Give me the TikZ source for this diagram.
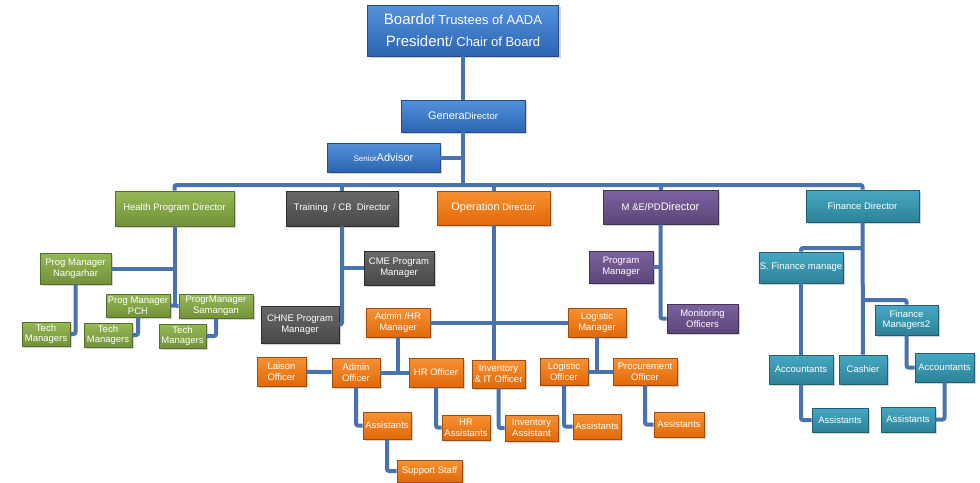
\documentclass[tikz,border=0pt]{standalone}
\usepackage{fontspec}
\setmainfont{Liberation Sans}
\usepackage{tikz}
\usetikzlibrary{shadows}
\definecolor{linkblue}{RGB}{74,114,174}
\tikzstyle{orgbox} = [rectangle, draw, line width=0.6pt, text=white, align=center,
    inner sep=1pt, font=\fontsize{9.5}{10.8}\selectfont,
    drop shadow={opacity=0.35, shadow xshift=2pt, shadow yshift=-2pt}]
\tikzstyle{bluebox} = [orgbox, draw={rgb,255:red,35;green,75;blue,135},
    top color={rgb,255:red,84;green,146;blue,220}, bottom color={rgb,255:red,44;green,100;blue,178}]
\tikzstyle{greenbox} = [orgbox, draw={rgb,255:red,85;green,110;blue,40},
    top color={rgb,255:red,150;green,185;blue,85}, bottom color={rgb,255:red,115;green,145;blue,58}]
\tikzstyle{graybox} = [orgbox, draw={rgb,255:red,45;green,45;blue,45},
    top color={rgb,255:red,105;green,105;blue,105}, bottom color={rgb,255:red,72;green,72;blue,72}]
\tikzstyle{orangebox} = [orgbox, draw={rgb,255:red,160;green,75;blue,10},
    top color={rgb,255:red,248;green,145;blue,50}, bottom color={rgb,255:red,225;green,105;blue,8}]
\tikzstyle{purplebox} = [orgbox, draw={rgb,255:red,65;green,48;blue,88},
    top color={rgb,255:red,125;green,98;blue,160}, bottom color={rgb,255:red,92;green,70;blue,120}]
\tikzstyle{tealbox} = [orgbox, draw={rgb,255:red,30;green,95;blue,115},
    top color={rgb,255:red,70;green,168;blue,195}, bottom color={rgb,255:red,45;green,130;blue,152}]
\tikzstyle{connector} = [draw=linkblue, line width=4pt, rounded corners=2pt]

\begin{document}
\begin{tikzpicture}[x=1pt, y=-1pt]
            \useasboundingbox (0,0) rectangle (980,482);
            % Top
            \node[bluebox, minimum width=191pt, minimum height=51pt,
            font=\fontsize{13}{22}\selectfont] (board) at (463,30.5)
            {{\fontsize{15}{22}\selectfont Board}of Trustees of AADA\\
            {\fontsize{15}{22}\selectfont President}/ Chair of Board};
            \node[bluebox, minimum width=124pt, minimum height=32pt] (gendir) at (463,116)
            {{\fontsize{11}{13}\selectfont Genera}Director};
            \node[bluebox, minimum width=113pt, minimum height=29pt] (advisor) at (383.5,157.5)
            {{\fontsize{8}{10}\selectfont Senior}{\fontsize{11}{13}\selectfont Advisor}};
            % Directors
            \node[greenbox, minimum width=119pt, minimum height=35pt] (health) at (174.5,208.5)
            {Health Program Director};
            \node[graybox, minimum width=112pt, minimum height=35pt] (training) at (342,208.5)
            {Training~ / CB~ Director};
            \node[orangebox, minimum width=113pt, minimum height=34pt] (operation) at (493.5,208)
            {{\fontsize{11}{13}\selectfont Operation} Director};
            \node[purplebox, minimum width=115pt, minimum height=34pt] (mepd) at (660.5,207)
            {M \&E/PD{\fontsize{11}{13}\selectfont Director}};
            \node[tealbox, minimum width=113pt, minimum height=32pt] (findir) at (862.5,206)
            {Finance Director};
            % Health program
            \node[greenbox, minimum width=71pt, minimum height=31pt] (nangarhar) at (75.5,268.5)
            {Prog Manager\\Nangarhar};
            \node[greenbox, minimum width=64pt, minimum height=23pt] (pch) at (138,305.5)
            {Prog Manager\\PCH};
            \node[greenbox, minimum width=74pt, minimum height=24pt] (samangan) at (216,306)
            {ProgrManager\\Samangan};
            \node[greenbox, minimum width=48pt, minimum height=24pt] (tech1) at (46,334)
            {Tech\\Managers};
            \node[greenbox, minimum width=48pt, minimum height=24pt] (tech2) at (108,335)
            {Tech\\Managers};
            \node[greenbox, minimum width=47pt, minimum height=24pt] (tech3) at (182.5,336)
            {Tech\\Managers};
            % Training / CB
            \node[graybox, minimum width=70pt, minimum height=34pt] (cme) at (399,268)
            {CME Program\\Manager};
            \node[graybox, minimum width=78pt, minimum height=37pt] (chne) at (300,324.5)
            {CHNE Program\\Manager};
            % Operation
            \node[orangebox, minimum width=64pt, minimum height=29pt] (adminhr) at (398,322.5)
            {Admin /HR\\Manager};
            \node[orangebox, minimum width=58pt, minimum height=29pt] (logmgr) at (597,322.5)
            {Logistic\\Manager};
            \node[orangebox, minimum width=49pt, minimum height=29pt] (laison) at (281.5,371.5)
            {Laison\\Officer};
            \node[orangebox, minimum width=48pt, minimum height=29pt] (adminoff) at (356,372.5)
            {Admin\\Officer};
            \node[orangebox, minimum width=54pt, minimum height=29pt] (hroff) at (436,372.5)
            {HR Officer};
            \node[orangebox, minimum width=53pt, minimum height=28pt] (invit) at (498.5,374)
            {Inventory\\\& IT Officer};
            \node[orangebox, minimum width=48pt, minimum height=27pt] (logoff) at (564,371.5)
            {Logistic\\Officer};
            \node[orangebox, minimum width=64pt, minimum height=27pt] (procoff) at (645,371.5)
            {Procurement\\Officer};
            \node[orangebox, minimum width=48pt, minimum height=27pt] (adminasst) at (387,425.5)
            {Assistants};
            \node[orangebox, minimum width=48pt, minimum height=25pt] (hrasst) at (466,427.5)
            {HR\\Assistants};
            \node[orangebox, minimum width=53pt, minimum height=26pt] (invasst) at (531.5,428)
            {Inventory\\Assistant};
            \node[orangebox, minimum width=48pt, minimum height=25pt] (logasst) at (597,426.5)
            {Assistants};
            \node[orangebox, minimum width=50pt, minimum height=25pt] (procasst) at (679,424.5)
            {Assistants};
            \node[orangebox, minimum width=65pt, minimum height=22pt] (support) at (429.5,471)
            {Support Staff};
            % M&E/PD
            \node[purplebox, minimum width=64pt, minimum height=32pt] (progmgr) at (621,267)
            {Program\\Manager};
            \node[purplebox, minimum width=71pt, minimum height=29pt] (monitor) at (702.5,318.5)
            {Monitoring\\Officers};
            % Finance
            \node[tealbox, minimum width=80pt, minimum height=31pt] (sfin) at (801,267.5)
            {S. Finance manage};
            \node[tealbox, minimum width=63pt, minimum height=30pt] (finmgr) at (906.5,320)
            {Finance\\Managers2};
            \node[tealbox, minimum width=64pt, minimum height=29pt] (acc1) at (801,369.5)
            {Accountants};
            \node[tealbox, minimum width=48pt, minimum height=29pt] (cashier) at (863,369.5)
            {Cashier};
            \node[tealbox, minimum width=59pt, minimum height=29pt] (acc2) at (944.5,367.5)
            {Accountants};
            \node[tealbox, minimum width=56pt, minimum height=24pt] (finasst1) at (840,420)
            {Assistants};
            \node[tealbox, minimum width=54pt, minimum height=25pt] (finasst2) at (908,419.5)
            {Assistants};
            % Connectors
            \coordinate (bus) at (463,185);
            \coordinate (fbus) at (862.5,248);
            \coordinate (fbus2) at (862.5,300);
            \draw[connector] (board) -- (gendir);
            \draw[connector] (gendir) -- (bus);
            \draw[connector] (advisor) -- (advisor -| bus);
            \draw[connector] (health) |- (bus) -| (findir);
            \draw[connector] (training) -- (training |- bus);
            \draw[connector] (operation) -- (operation |- bus);
            \draw[connector] (mepd) -- (mepd |- bus);
            \draw[connector] (health) -- (health |- pch);
            \draw[connector] (nangarhar) -- (nangarhar -| health);
            \draw[connector] (pch) -- (samangan);
            \draw[connector] (nangarhar) |- (tech1);
            \draw[connector] (pch) |- (tech2);
            \draw[connector] (samangan) |- (tech3);
            \draw[connector] (training) |- (chne);
            \draw[connector] (cme) -- (cme -| training);
            \draw[connector] (operation) -- (operation |- invit.north);
            \draw[connector] (adminhr) -- (logmgr);
            \draw[connector] (adminhr) -- (adminhr |- hroff);
            \draw[connector] (laison) -- (adminoff);
            \draw[connector] (adminoff) -- (hroff);
            \draw[connector] (adminoff) |- (adminasst);
            \draw[connector] (adminasst) |- (support);
            \draw[connector] (hroff) |- (hrasst);
            \draw[connector] (invit) |- (invasst);
            \draw[connector] (logmgr) -- (logmgr |- procoff);
            \draw[connector] (logoff) -- (procoff);
            \draw[connector] (logoff) |- (logasst);
            \draw[connector] (procoff) |- (procasst);
            \draw[connector] (mepd) |- (monitor);
            \draw[connector] (progmgr) -- (progmgr -| mepd);
            \draw[connector] (findir) -- (cashier);
            \draw[connector] (fbus) -| (sfin);
            \draw[connector] (sfin) -- (acc1);
            \draw[connector] (fbus2) -| (finmgr);
            \draw[connector] (finmgr) |- (acc2);
            \draw[connector] (acc1) |- (finasst1);
            \draw[connector] (acc2) |- (finasst2);
        \end{tikzpicture}
\end{document}
